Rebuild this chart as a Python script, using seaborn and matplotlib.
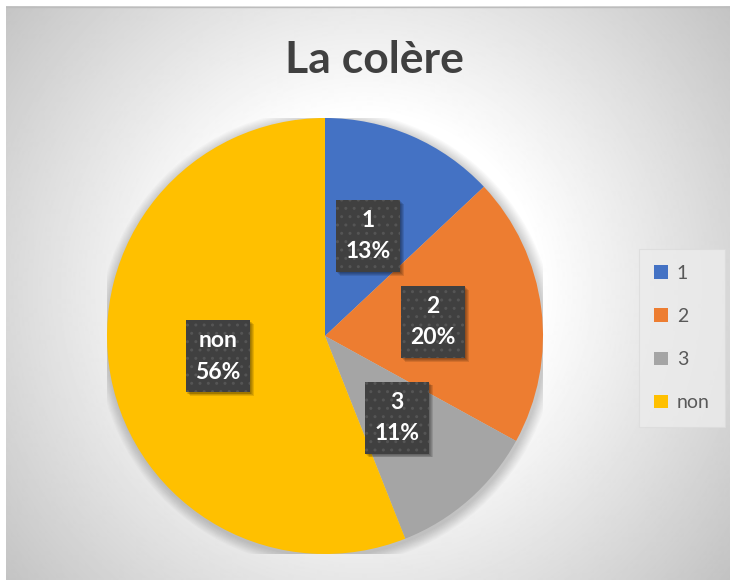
import numpy as np
import matplotlib
matplotlib.use("Agg")
import matplotlib.pyplot as plt
import seaborn as sns
from matplotlib.patches import Rectangle, Patch, Circle

categories = ["1", "2", "3", "non"]
values = [13, 20, 11, 56]
colors = ["#4472C4", "#ED7D31", "#A5A5A5", "#FFC000"]
title = "La colère"

sns.set_style("white")
plt.rcParams["font.family"] = ["Lato", "DejaVu Sans"]
plt.rcParams["hatch.linewidth"] = 1.0

W, H = 730, 583
fig = plt.figure(figsize=(W / 100, H / 100), dpi=100)
fig.patch.set_facecolor("white")

# background radial gradient
bg = fig.add_axes([6 / W, 2 / H, 1 - 6 / W, 1 - 8 / H])
bg.set_axis_off()
ny, nx = 575, 724
yy, xx = np.mgrid[0:ny, 0:nx]
r = np.hypot(xx + 6 - 365, yy + 6 - 290)
val = np.clip(291 - 0.207 * r, 0, 255) / 255.0
bg.imshow(val, cmap="gray", vmin=0, vmax=1, aspect="auto", interpolation="bilinear")
bg.plot([0, nx], [0.5, 0.5], color="#bdbdbd", lw=1)
bg.set_xlim(0, nx)
bg.set_ylim(ny, 0)

# pie
cx, cy, R = 325, 336, 218
ax = fig.add_axes([(cx - R) / W, (H - cy - R) / H, 2 * R / W, 2 * R / H])
ax.set_axis_off()
for i in range(10):
    ax.add_patch(Circle((0.006, -0.01), 1.0 + 0.005 * (10 - i), color="black", alpha=0.018, lw=0))

wedges, texts, autotexts = ax.pie(
    values, colors=colors, startangle=90, counterclock=False,
    autopct="%1.0f%%", pctdistance=0.5, labels=None,
    wedgeprops=dict(linewidth=0),
)
ax.set_xlim(-1, 1)
ax.set_ylim(-1, 1)

bw, bh = 64 / R, 72 / R
for cat, t in zip(categories, autotexts):
    x, y = t.get_position()
    for k in range(4):
        ax.add_patch(Rectangle((x - bw / 2 + 0.005 + 0.004 * k, y - bh / 2 - 0.005 - 0.004 * k), bw, bh,
                               facecolor="black", alpha=0.11, lw=0, zorder=3))
    ax.add_patch(Rectangle((x - bw / 2, y - bh / 2), bw, bh, facecolor="#404040",
                           edgecolor="#555555", hatch="..", lw=0, zorder=4))
    t.set_text(f"{cat}\n{t.get_text()}")
    t.set_color("white")
    t.set_fontsize(16.5)
    t.set_fontweight("bold")
    t.set_linespacing(1.6)
    t.set_zorder(5)

fig.text(374 / W, 1 - 60 / H, title, ha="center", va="center", fontsize=32,
         fontweight="bold", color="#404040")

handles = [Patch(facecolor=c, edgecolor="none") for c in colors]
leg = fig.legend(handles, categories, loc="center", bbox_to_anchor=(682 / W, 1 - 338 / H),
                 frameon=True, fontsize=14, labelspacing=1.35, handlelength=0.7,
                 handleheight=0.7, handletextpad=0.45, borderpad=0.8, fancybox=False,
                 borderaxespad=0)
leg.get_frame().set_facecolor("#ececec")
leg.get_frame().set_edgecolor("#dcdcdc")
leg.get_frame().set_linewidth(0.8)
for txt in leg.get_texts():
    txt.set_color("#595959")

fig.savefig("out.png", dpi=100)
